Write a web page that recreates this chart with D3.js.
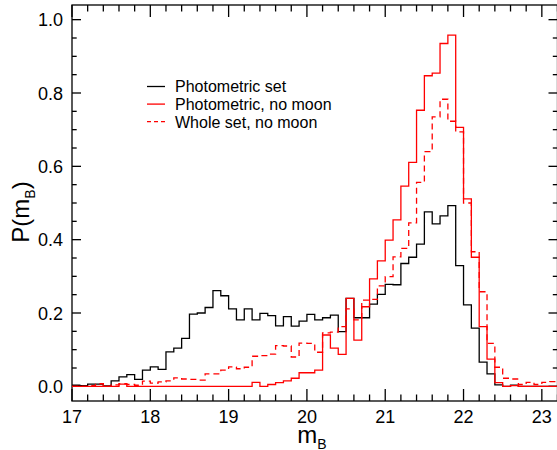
<!DOCTYPE html>
<html>
<head>
<meta charset="utf-8">
<script src="https://cdn.jsdelivr.net/npm/d3@7"></script>
<style>
  html, body { margin: 0; padding: 0; background: #fff; }
  svg { display: block; font-family: "Liberation Sans", Arial, Helvetica, sans-serif; }
</style>
</head>
<body>
<svg id="chart" width="557" height="450"></svg>
<script>
// Histogram bins: left edges from 17.0 in steps of 0.1 (last bin ends at 23.2)
const binStart = 17.0;
const binWidth = 0.1;

// P(m_B) for the photometric set
const photometricSet = [
  0.003, 0.002, 0.006, 0.006, 0.001, 0.015, 0.026, 0.032, 0.019, 0.044,
  0.053, 0.046, 0.094, 0.104, 0.131, 0.197, 0.200, 0.215, 0.261, 0.247,
  0.211, 0.181, 0.211, 0.181, 0.199, 0.193, 0.165, 0.190, 0.164, 0.178,
  0.196, 0.181, 0.187, 0.194, 0.149, 0.240, 0.187, 0.187, 0.224, 0.251,
  0.278, 0.277, 0.335, 0.352, 0.388, 0.476, 0.443, 0.465, 0.493, 0.329,
  0.222, 0.159, 0.066, 0.034, 0.004, 0.000, 0.003, 0.000, 0.000, 0.000,
  0.000, 0.000
];

// P(m_B) for the photometric set without moon
const photometricNoMoon = [
  0.000, 0.000, 0.000, 0.000, 0.000, 0.000, 0.006, 0.000, 0.000, 0.000,
  0.000, 0.000, 0.000, 0.000, 0.000, 0.000, 0.000, 0.000, 0.000, 0.000,
  0.000, 0.000, 0.000, 0.011, 0.000, 0.005, 0.010, 0.015, 0.022, 0.037,
  0.037, 0.044, 0.140, 0.104, 0.087, 0.240, 0.126, 0.217, 0.293, 0.342,
  0.399, 0.454, 0.546, 0.611, 0.753, 0.847, 0.854, 0.935, 0.958, 0.706,
  0.511, 0.352, 0.163, 0.074, 0.010, 0.000, 0.002, 0.000, 0.000, 0.000,
  0.000, 0.000
];

// P(m_B) for the whole set without moon
const wholeSetNoMoon = [
  0.000, 0.000, 0.002, 0.007, 0.000, 0.004, 0.007, 0.005, 0.003, 0.014,
  0.009, 0.012, 0.015, 0.023, 0.020, 0.019, 0.017, 0.034, 0.034, 0.044,
  0.053, 0.048, 0.052, 0.082, 0.084, 0.088, 0.111, 0.110, 0.080, 0.118,
  0.117, 0.093, 0.146, 0.148, 0.163, 0.211, 0.181, 0.235, 0.237, 0.274,
  0.299, 0.353, 0.376, 0.446, 0.556, 0.640, 0.735, 0.783, 0.723, 0.694,
  0.500, 0.367, 0.258, 0.117, 0.052, 0.022, 0.020, 0.005, 0.011, 0.005,
  0.011, 0.013
];

const xTickValues = [17, 18, 19, 20, 21, 22, 23];
const yTickValues = [0.0, 0.2, 0.4, 0.6, 0.8, 1.0];
const legendLabels = ["Photometric set", "Photometric, no moon", "Whole set, no moon"];

const svg = d3.select("#chart");
const plotLeft = 72, plotRight = 557.5, plotTop = 5, plotBottom = 401;

const x = d3.scaleLinear().domain([17, 23.2]).range([plotLeft, plotRight]);
const y = d3.scaleLinear().domain([-0.04, 1.04]).range([plotBottom, plotTop]);

// frame
const frame = svg.append("g").attr("stroke", "#000").attr("stroke-width", 1.3).attr("fill", "none");
frame.append("rect").attr("x", plotLeft).attr("y", plotTop)
  .attr("width", plotRight - plotLeft).attr("height", plotBottom - plotTop);

// ticks on all four sides
const xMinor = d3.range(17, 23.21, 0.2).map(v => +v.toFixed(2));
const yMinor = d3.range(0, 1.001, 0.05).map(v => +v.toFixed(2));
const isMajorX = v => Math.abs(v - Math.round(v)) < 1e-6;
const isMajorY = v => Math.abs(v * 5 - Math.round(v * 5)) < 1e-6;

xMinor.forEach(v => {
  const len = isMajorX(v) ? 12 : 6.5;
  frame.append("line").attr("x1", x(v)).attr("x2", x(v)).attr("y1", plotBottom).attr("y2", plotBottom - len);
  frame.append("line").attr("x1", x(v)).attr("x2", x(v)).attr("y1", plotTop).attr("y2", plotTop + len);
});
yMinor.forEach(v => {
  const len = isMajorY(v) ? 9 : 4.7;
  frame.append("line").attr("x1", plotLeft).attr("x2", plotLeft + len).attr("y1", y(v)).attr("y2", y(v));
  frame.append("line").attr("x1", plotRight).attr("x2", plotRight - len).attr("y1", y(v)).attr("y2", y(v));
});

// tick labels
svg.append("g").selectAll("text").data(xTickValues).join("text")
  .attr("x", d => x(d)).attr("y", 423)
  .attr("text-anchor", "middle").attr("font-size", 18).attr("fill", "#000")
  .text(d => d);
svg.append("g").selectAll("text").data(yTickValues).join("text")
  .attr("x", 63).attr("y", d => y(d) + 6.5)
  .attr("text-anchor", "end").attr("font-size", 18).attr("fill", "#000")
  .text(d => d3.format(".1f")(d));

// axis titles
const xt = svg.append("text").attr("x", 312).attr("y", 443).attr("text-anchor", "middle")
  .attr("font-size", 24).attr("fill", "#000");
xt.append("tspan").text("m");
xt.append("tspan").attr("font-size", 14).attr("dy", 6).text("B");

const yt = svg.append("text").attr("transform", "translate(29,212) rotate(-90)")
  .attr("text-anchor", "middle").attr("font-size", 24).attr("fill", "#000");
yt.append("tspan").text("P(m");
yt.append("tspan").attr("font-size", 14).attr("dy", 6).text("B");
yt.append("tspan").attr("dy", -6).text(")");

// step histograms
function stepPoints(values) {
  const pts = values.map((v, i) => [binStart + i * binWidth, v]);
  pts.push([binStart + values.length * binWidth, values[values.length - 1]]);
  return pts;
}
const line = d3.line().x(d => x(d[0])).y(d => y(d[1])).curve(d3.curveStepAfter);

const series = [
  { values: photometricSet, color: "#000000", dash: null },
  { values: wholeSetNoMoon, color: "#ff0000", dash: "6,4" },
  { values: photometricNoMoon, color: "#ff0000", dash: null }
];
svg.append("g").selectAll("path").data(series).join("path")
  .attr("d", d => line(stepPoints(d.values)))
  .attr("fill", "none")
  .attr("stroke", d => d.color)
  .attr("stroke-width", 1.3)
  .attr("stroke-dasharray", d => d.dash);

// legend
const legendStyles = [
  { color: "#000000", dash: null },
  { color: "#ff0000", dash: null },
  { color: "#ff0000", dash: "4,3" }
];
const lg = svg.append("g");
legendLabels.forEach((label, i) => {
  const ly = 86.5 + i * 17.6;
  lg.append("line").attr("x1", 147).attr("x2", 165).attr("y1", ly).attr("y2", ly)
    .attr("stroke", legendStyles[i].color).attr("stroke-width", 1.3)
    .attr("stroke-dasharray", legendStyles[i].dash);
  lg.append("text").attr("x", 175).attr("y", ly + 5.8).attr("font-size", 16).attr("fill", "#000")
    .text(label);
});
</script>
</body>
</html>
